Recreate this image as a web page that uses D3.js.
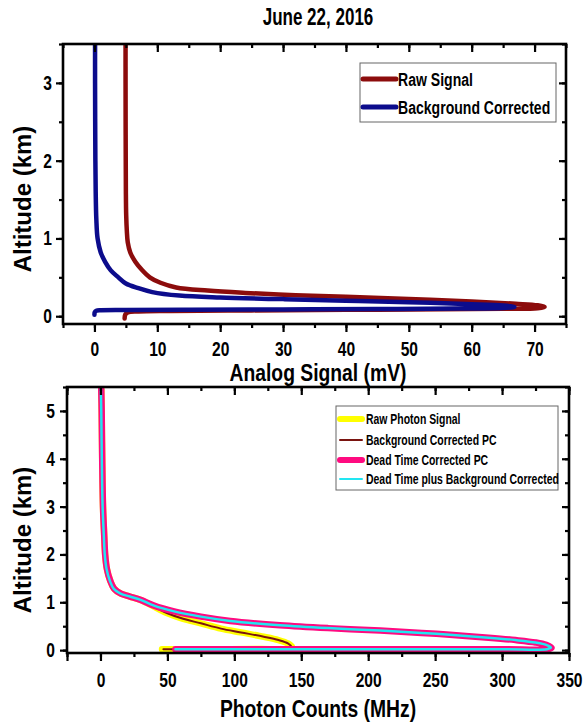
<!DOCTYPE html>
<html>
<head>
<meta charset="utf-8">
<script src="https://cdn.jsdelivr.net/npm/d3@7"></script>
<style>
  body { margin: 0; background: #fff; }
  text { font-family: "Liberation Sans", Arial, sans-serif; font-weight: bold; fill: #000; }
</style>
</head>
<body>
<div id="chart"></div>
<script>
// top panel: analog signal [mV, km]
const rawSignal = [
  [4.95, 3.5], [4.95, 3.0], [4.96, 2.5], [4.98, 2.0], [5.0, 1.6], [5.05, 1.3], [5.15, 1.1],
  [5.3, 0.95], [5.7, 0.82], [6.5, 0.7], [7.5, 0.6], [8.8, 0.5], [10.5, 0.43], [13, 0.37],
  [18, 0.33], [24, 0.3], [32, 0.27], [40, 0.25], [50, 0.22], [60, 0.19], [67, 0.16],
  [70.5, 0.14], [71.6, 0.12], [70.5, 0.102], [65, 0.095], [55, 0.09], [40, 0.082],
  [25, 0.075], [12, 0.068], [7, 0.062], [5.3, 0.05], [4.9, 0.02], [4.8, -0.03]
];
const bgCorrected = [
  [0.1, 3.5], [0.1, 3.0], [0.12, 2.5], [0.15, 2.0], [0.2, 1.6], [0.3, 1.25], [0.5, 1.0],
  [1.0, 0.82], [1.7, 0.7], [2.6, 0.59], [3.8, 0.5], [5.0, 0.42], [7.0, 0.36], [9.2, 0.31],
  [13.5, 0.265], [20, 0.24], [30, 0.22], [40, 0.2], [50, 0.18], [60, 0.155], [65, 0.137],
  [66.8, 0.12], [65, 0.105], [58, 0.098], [45, 0.092], [30, 0.088], [15, 0.083],
  [5, 0.08], [1, 0.077], [0.3, 0.07], [0.05, 0.05], [0.0, 0.02]
];
// bottom panel: photon counts [MHz, km]
const rawPhoton = [
  [0.6, 5.45], [0.9, 5.0], [1.3, 4.0], [1.9, 3.0], [2.8, 2.4], [3.5, 2.0], [4.8, 1.7],
  [7.3, 1.45], [10.3, 1.28], [15.3, 1.18], [22, 1.12], [30, 1.05], [42, 0.88], [50, 0.77],
  [60, 0.67], [75, 0.56], [90, 0.45], [105, 0.37], [122, 0.28], [133, 0.21], [140, 0.14],
  [143, 0.07], [142, 0.03], [120, 0.022], [80, 0.02], [46, 0.02]
];
const bgCorrectedPC = [
  [0.3, 5.45], [0.6, 5.0], [1.0, 4.0], [1.6, 3.0], [2.5, 2.4], [3.2, 2.0], [4.5, 1.7],
  [7.0, 1.45], [10, 1.28], [15, 1.18], [22, 1.12], [30, 1.05], [42, 0.88], [50, 0.77],
  [60, 0.67], [75, 0.56], [90, 0.45], [105, 0.37], [122, 0.28], [133, 0.21], [140, 0.14],
  [142.5, 0.07], [141.5, 0.03], [120, 0.022], [80, 0.02], [47, 0.02]
];
const deadTimePC = [
  [0.6, 5.45], [0.9, 5.0], [1.3, 4.0], [1.9, 3.0], [2.8, 2.4], [3.5, 2.0], [4.8, 1.7],
  [7.3, 1.45], [10.3, 1.28], [15.3, 1.18], [22, 1.12], [30, 1.05], [40, 0.93], [55, 0.81],
  [75, 0.7], [97, 0.61], [134, 0.52], [170, 0.46], [209, 0.41], [240, 0.36], [261, 0.32],
  [290, 0.26], [310, 0.21], [325, 0.16], [333, 0.11], [337, 0.05], [334, 0.02], [300, 0.02],
  [200, 0.02], [100, 0.02], [56, 0.02]
];
const deadTimeBgPC = [
  [0.3, 5.45], [0.6, 5.0], [1.0, 4.0], [1.6, 3.0], [2.5, 2.4], [3.2, 2.0], [4.5, 1.7],
  [7.0, 1.45], [10, 1.28], [15, 1.18], [22, 1.12], [30, 1.05], [40, 0.93], [55, 0.81],
  [75, 0.7], [97, 0.61], [134, 0.52], [170, 0.46], [209, 0.41], [240, 0.36], [261, 0.32],
  [290, 0.26], [310, 0.21], [325, 0.16], [333, 0.11], [336.5, 0.05], [333.5, 0.02], [300, 0.02],
  [200, 0.02], [100, 0.02], [56, 0.02]
];

const topXTicks = [0, 10, 20, 30, 40, 50, 60, 70];
const topYTicks = [0, 1, 2, 3];
const botXTicks = [-25, 0, 50, 100, 150, 200, 250, 300, 350];
const botYTicks = [0, 1, 2, 3, 4, 5];

const svg = d3.select("#chart").append("svg")
    .attr("width", 583)
    .attr("height", 724);

// narrow the bold font horizontally (Arial Narrow look), keeping the anchor point
function squeeze(sel, k) {
    sel.each(function () {
        const x = +(this.getAttribute("x") || 0);
        d3.select(this).attr("transform", `translate(${x * (1 - k)},0) scale(${k},1)`);
    });
}

const title = svg.append("text")
    .attr("x", 318)
    .attr("y", 25)
    .attr("text-anchor", "middle")
    .style("font-size", "23px")
    .text("June 22, 2016");
squeeze(title, 0.74);

const line = (x, y) => d3.line()
    .x(d => x(d[0]))
    .y(d => y(d[1]))
    .curve(d3.curveCatmullRom.alpha(0.5));

function drawFrame(x, y, xMajor, xMinor, yMajor, yMinor, xPad, yPad, xFormat) {
    const x0 = x.range()[0], x1 = x.range()[1];
    const y0 = y.range()[0], y1 = y.range()[1];
    const g = svg.append("g");

    // bottom axis, outward ticks with labels
    g.append("g")
        .attr("transform", "translate(0," + y0 + ")")
        .call(d3.axisBottom(x).tickValues(xMinor).tickSize(4).tickFormat(""));
    g.append("g")
        .attr("transform", "translate(0," + y0 + ")")
        .call(d3.axisBottom(x).tickValues(xMajor).tickSize(8).tickPadding(xPad).tickFormat(xFormat));
    // top mirror, inward
    g.append("g")
        .attr("transform", "translate(0," + y1 + ")")
        .call(d3.axisTop(x).tickValues(xMinor).tickSize(-4).tickFormat(""));
    g.append("g")
        .attr("transform", "translate(0," + y1 + ")")
        .call(d3.axisTop(x).tickValues(xMajor).tickSize(-8).tickFormat(""));
    // left axis
    g.append("g")
        .attr("transform", "translate(" + x0 + ",0)")
        .call(d3.axisLeft(y).tickValues(yMinor).tickSize(4).tickFormat(""));
    g.append("g")
        .attr("transform", "translate(" + x0 + ",0)")
        .call(d3.axisLeft(y).tickValues(yMajor).tickSize(7).tickPadding(yPad).tickFormat(d3.format("d")));
    // right mirror
    g.append("g")
        .attr("transform", "translate(" + x1 + ",0)")
        .call(d3.axisRight(y).tickValues(yMinor).tickSize(-4).tickFormat(""));
    g.append("g")
        .attr("transform", "translate(" + x1 + ",0)")
        .call(d3.axisRight(y).tickValues(yMajor).tickSize(-7).tickFormat(""));

    g.selectAll(".domain").remove();
    g.selectAll(".tick line").attr("stroke", "#000").attr("stroke-width", 2.2);
    g.selectAll(".tick text")
        .attr("fill", "#000")
        .attr("font-family", null)
        .attr("font-size", null)
        .style("font-size", "20px");
    squeeze(g.selectAll(".tick text"), 0.78);

    g.append("rect")
        .attr("x", x0).attr("y", y1)
        .attr("width", x1 - x0).attr("height", y0 - y1)
        .attr("fill", "none")
        .attr("stroke", "#000")
        .attr("stroke-width", 2.6);
}

// ---------- top panel ----------
const xTop = d3.scaleLinear().domain([-5, 75]).range([63, 566]);
const yTop = d3.scaleLinear().domain([-0.1, 3.5]).range([324, 44]);

svg.append("clipPath").attr("id", "clipTop")
    .append("rect").attr("x", 63).attr("y", 44).attr("width", 503).attr("height", 280);

const gTop = svg.append("g").attr("clip-path", "url(#clipTop)");
gTop.append("path")
    .datum(rawSignal)
    .attr("d", line(xTop, yTop))
    .attr("fill", "none")
    .attr("stroke", "#8c0c0c")
    .attr("stroke-width", 4.5)
    .attr("stroke-linecap", "round");
gTop.append("path")
    .datum(bgCorrected)
    .attr("d", line(xTop, yTop))
    .attr("fill", "none")
    .attr("stroke", "#0c0c8c")
    .attr("stroke-width", 4.5)
    .attr("stroke-linecap", "round");

drawFrame(xTop, yTop, topXTicks, d3.range(-5, 76, 5), topYTicks, d3.range(0, 3.51, 0.5), 10, 4, d3.format("d"));

// legend top
const legTop = svg.append("g");
legTop.append("rect")
    .attr("x", 360).attr("y", 63).attr("width", 196).attr("height", 59)
    .attr("fill", "#fff").attr("stroke", "#666").attr("stroke-width", 1);
[["Raw Signal", "#8c0c0c", 79], ["Background Corrected", "#0c0c8c", 107]].forEach(d => {
    legTop.append("line")
        .attr("x1", 363).attr("x2", 396).attr("y1", d[2]).attr("y2", d[2])
        .attr("stroke", d[1]).attr("stroke-width", 5).attr("stroke-linecap", "round");
    legTop.append("text")
        .attr("x", 398).attr("y", d[2] + 7)
        .style("font-size", "19px")
        .text(d[0]);
});
squeeze(legTop.selectAll("text"), 0.74);

const xt1 = svg.append("text")
    .attr("x", 318).attr("y", 381)
    .attr("text-anchor", "middle")
    .style("font-size", "23px")
    .text("Analog Signal (mV)");
squeeze(xt1, 0.84);
svg.append("text")
    .attr("transform", "translate(31,199) rotate(-90)")
    .attr("text-anchor", "middle")
    .style("font-size", "24px")
    .text("Altitude (km)");

// ---------- bottom panel ----------
const xBot = d3.scaleLinear().domain([-25, 350]).range([67, 569]);
const yBot = d3.scaleLinear().domain([-0.06, 5.5]).range([653, 387]);

svg.append("clipPath").attr("id", "clipBot")
    .append("rect").attr("x", 67).attr("y", 387).attr("width", 502).attr("height", 266);
const gBot = svg.append("g").attr("clip-path", "url(#clipBot)");

const botSeries = [
    { data: rawPhoton, color: "#ffff00", width: 6.5 },
    { data: bgCorrectedPC, color: "#7a1410", width: 2 },
    { data: deadTimePC, color: "#ff0a80", width: 6.5 },
    { data: deadTimeBgPC, color: "#22e6f2", width: 2.5 }
];
botSeries.forEach(s => {
    gBot.append("path")
        .datum(s.data)
        .attr("d", line(xBot, yBot))
        .attr("fill", "none")
        .attr("stroke", s.color)
        .attr("stroke-width", s.width)
        .attr("stroke-linecap", "round")
        .attr("stroke-linejoin", "round");
});

drawFrame(xBot, yBot, botXTicks, d3.range(-25, 351, 25), botYTicks, d3.range(0, 5.51, 0.5), 12, 5,
    d => d < 0 ? "" : d3.format("d")(d));

const legBot = svg.append("g");
legBot.append("rect")
    .attr("x", 336).attr("y", 406).attr("width", 222).attr("height", 84)
    .attr("fill", "#fff").attr("stroke", "#666").attr("stroke-width", 1);
const legBotItems = [
    ["Raw Photon Signal", "#ffff00", 6, 419],
    ["Background Corrected PC", "#7a1410", 2, 440],
    ["Dead Time Corrected PC", "#ff0a80", 6, 460],
    ["Dead Time plus Background Corrected", "#22e6f2", 2, 479]
];
legBotItems.forEach(d => {
    legBot.append("line")
        .attr("x1", 340).attr("x2", 362).attr("y1", d[3]).attr("y2", d[3])
        .attr("stroke", d[1]).attr("stroke-width", d[2]).attr("stroke-linecap", "round");
    legBot.append("text")
        .attr("x", 366).attr("y", d[3] + 5)
        .style("font-size", "14.5px")
        .text(d[0]);
});
squeeze(legBot.selectAll("text"), 0.72);

const xt2 = svg.append("text")
    .attr("x", 318).attr("y", 717)
    .attr("text-anchor", "middle")
    .style("font-size", "23px")
    .text("Photon Counts (MHz)");
squeeze(xt2, 0.84);
svg.append("text")
    .attr("transform", "translate(31,540) rotate(-90)")
    .attr("text-anchor", "middle")
    .style("font-size", "24px")
    .text("Altitude (km)");
</script>
</body>
</html>
